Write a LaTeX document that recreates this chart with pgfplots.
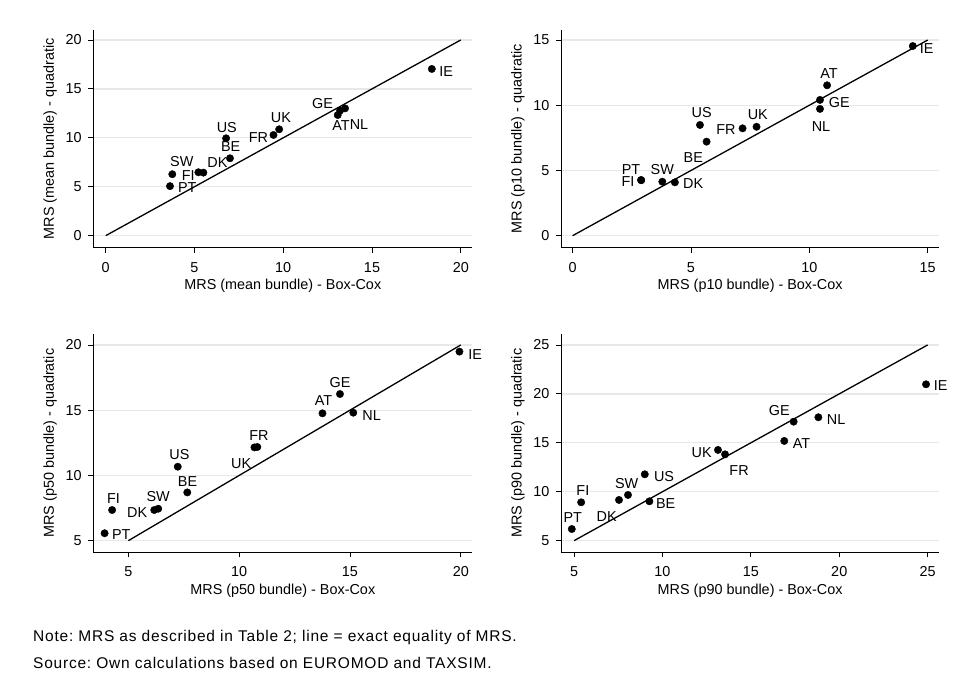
\documentclass[border=0pt]{standalone}
\usepackage{fontspec}
\setmainfont{Liberation Sans}
\newfontfamily\notefamily[LetterSpace=5]{Liberation Sans}
\usepackage{pgfplots}
\usepackage{pgfplotstable}
\pgfplotsset{compat=1.18}
\frenchspacing
\definecolor{gridcol}{RGB}{232,232,232}
\newcommand\chartfont{\fontsize{14.4bp}{17bp}\selectfont}
\newcommand\notesize{\fontsize{15.5bp}{18bp}\selectfont}

\pgfplotstableread{
x y lab dx dy
18.37 17.04 IE 14.3 -2.7
13.20 12.78 GE -17.5 6.7
13.07 12.33 AT 3.3 -11
13.48 13.01 NL 14 -15.7
9.77 10.87 UK 1.7 12
9.45 10.29 FR -15 -2.3
6.78 9.95 US 0.7 11
7.00 7.91 BE 0.7 11.6
5.22 6.48 SW -16.6 10.6
5.50 6.44 DK 14 9.8
3.75 6.28 FI 16 -1.7
3.62 5.06 PT 17.3 -1.3
}\tabmean

\pgfplotstableread{
x y lab dx dy
14.37 14.54 IE 14 -2.3
10.75 11.53 AT 2 12
10.45 10.41 GE 19.3 -2.3
10.45 9.72 NL 1 -17.7
5.38 8.49 US 1.7 12
5.66 7.21 BE -13.3 -15.7
7.18 8.23 FR -16.7 -1.3
7.77 8.35 UK 1.3 11.7
2.89 4.27 PT -10 10.7
2.90 4.25 FI -13.3 -1.7
3.79 4.14 SW 0 11.7
4.32 4.09 DK 18.3 -1.7
}\tabpten

\pgfplotstableread{
x y lab dx dy
19.94 19.49 IE 15.7 -2.7
14.55 16.24 GE 0 11.3
13.76 14.76 AT 1 12.7
15.15 14.81 NL 18.3 -3
10.82 12.18 FR 1.7 11.7
10.69 12.15 UK -13.3 -16
7.23 10.67 US 1.7 11.7
7.66 8.70 BE 0.3 11.3
6.35 7.45 SW 0 12
6.17 7.35 DK -17 -2.7
4.27 7.35 FI 1.3 11.7
3.93 5.57 PT 16.7 -1.7
}\tabpfifty

\pgfplotstableread{
x y lab dx dy
24.91 20.98 IE 14.7 -1.7
18.82 17.61 NL 17.7 -2
17.42 17.16 GE -14.3 11
16.89 15.19 AT 17.3 -2.3
13.14 14.27 UK -16.3 -2.7
13.54 13.82 FR 14 -16.3
9.00 11.78 US 19.3 -2.3
8.05 9.67 SW -1.3 11.7
7.54 9.16 DK -12.3 -16.7
9.26 9.02 BE 16.3 -2
5.40 8.92 FI 1.7 11.3
4.87 6.19 PT 1 11.7
}\tabpninety

\pgfplotsset{
  stata/.style={
    scale only axis, clip=false,
    axis lines=left,
    axis line style={-, black, line width=0.8bp},
    tick align=outside, major tick length=5bp,
    tick style={black, line width=0.8bp},
    ymajorgrids, grid style={gridcol, line width=1.3bp},
    ticklabel style={font=\chartfont},
    /pgf/number format/assume math mode=true,
    yticklabel style={inner sep=1.5bp},
    xticklabel shift=6bp,
    yticklabel shift=5bp,
    every axis y label/.style={at={(axis description cs:-0.114,0.5)}, rotate=90, anchor=center, font=\chartfont},
  },
  pts/.style={only marks, mark=*, mark size=3.7bp, black,
    nodes near coords, point meta=explicit symbolic,
    visualization depends on={\thisrow{dx} \as \dx},
    visualization depends on={\thisrow{dy} \as \dy},
    every node near coord/.style={anchor=center, xshift=\dx bp, yshift=\dy bp, inner sep=0pt, font=\chartfont, text=black}},
  eqline/.style={black, line width=1.3bp, no marks},
}

\begin{document}
\begin{tikzpicture}
\useasboundingbox (0,0) rectangle (963bp,685bp);

% top left
\begin{axis}[stata, at={(93.3bp,437.3bp)}, anchor=south west,
  width=379bp, height=217.7bp,
  xmin=-0.70, xmax=20.65, ymin=-1.23, ymax=21.02,
  xtick={0,5,10,15,20}, ytick={0,5,10,15,20},
  xlabel={MRS (mean bundle) - Box-Cox},
  ylabel={MRS (mean bundle) - quadratic},
  every axis x label/.style={at={(axis description cs:0.5,-0.174)}, anchor=center, font=\chartfont}]
\addplot[eqline] coordinates {(0,0) (20,20)};
\addplot[pts] table[x=x, y=y, meta=lab] {\tabmean};
\end{axis}

% top right
\begin{axis}[stata, at={(561bp,437.3bp)}, anchor=south west,
  width=378.3bp, height=217.7bp,
  xmin=-0.49, xmax=15.49, ymin=-0.92, ymax=15.77,
  xtick={0,5,10,15}, ytick={0,5,10,15},
  xlabel={MRS (p10 bundle) - Box-Cox},
  ylabel={MRS (p10 bundle) - quadratic},
  every axis x label/.style={at={(axis description cs:0.5,-0.174)}, anchor=center, font=\chartfont}]
\addplot[eqline] coordinates {(0,0) (15,15)};
\addplot[pts] table[x=x, y=y, meta=lab] {\tabpten};
\end{axis}

% bottom left
\begin{axis}[stata, at={(93.3bp,132.7bp)}, anchor=south west,
  width=379bp, height=218.3bp,
  xmin=3.42, xmax=20.52, ymin=4.11, ymax=20.84,
  xtick={5,10,15,20}, ytick={5,10,15,20},
  xlabel={MRS (p50 bundle) - Box-Cox},
  ylabel={MRS (p50 bundle) - quadratic},
  every axis x label/.style={at={(axis description cs:0.5,-0.177)}, anchor=center, font=\chartfont}]
\addplot[eqline] coordinates {(5,5) (20,20)};
\addplot[pts] table[x=x, y=y, meta=lab] {\tabpfifty};
\end{axis}

% bottom right
\begin{axis}[stata, at={(561bp,132.7bp)}, anchor=south west,
  width=378.3bp, height=218.3bp,
  xmin=4.26, xmax=25.66, ymin=3.81, ymax=26.12,
  xtick={5,10,15,20,25}, ytick={5,10,15,20,25},
  xlabel={MRS (p90 bundle) - Box-Cox},
  ylabel={MRS (p90 bundle) - quadratic},
  every axis x label/.style={at={(axis description cs:0.5,-0.177)}, anchor=center, font=\chartfont}]
\addplot[eqline] coordinates {(5,5) (25,25)};
\addplot[pts] table[x=x, y=y, meta=lab] {\tabpninety};
\end{axis}

\node[anchor=west, inner sep=0pt, font=\notefamily\notesize] at (33bp,48bp) {Note: MRS as described in Table 2; line = exact equality of MRS.};
\node[anchor=west, inner sep=0pt, font=\notefamily\notesize] at (33bp,22bp) {Source: Own calculations based on EUROMOD and TAXSIM.};
\end{tikzpicture}
\end{document}
